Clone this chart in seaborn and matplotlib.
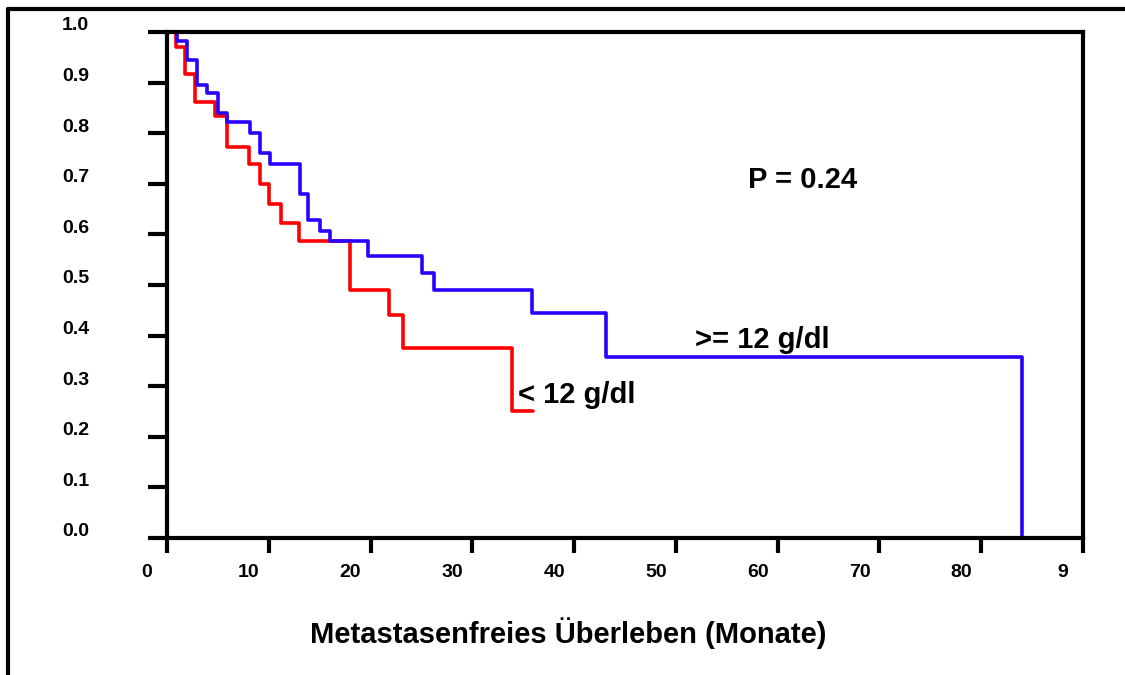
import pandas as pd
import matplotlib.pyplot as plt
import seaborn as sns
from matplotlib.lines import Line2D
from matplotlib.transforms import ScaledTranslation

# Kaplan-Meier step data
blue_t = [0, 0.95, 1.94, 3.0, 3.9, 5.0, 5.9, 8.15, 9.1, 10.1, 13.1, 13.9, 15.0,
          16.0, 19.8, 25.1, 26.2, 35.9, 43.1, 84.0]
blue_s = [1.0, 0.983, 0.945, 0.895, 0.880, 0.840, 0.823, 0.800, 0.761, 0.739,
          0.680, 0.628, 0.607, 0.586, 0.557, 0.523, 0.490, 0.444, 0.358, 0.0]

red_t = [0, 0.9, 1.77, 2.75, 4.7, 5.9, 8.1, 9.1, 10.05, 11.2, 13.0, 18.0, 21.8,
         23.2, 33.9, 36.0]
red_s = [1.0, 0.971, 0.917, 0.862, 0.833, 0.773, 0.739, 0.700, 0.661, 0.623,
         0.586, 0.490, 0.441, 0.375, 0.251, 0.251]

x_ticks = [0, 10, 20, 30, 40, 50, 60, 70, 80, 90]
x_labels = ["0", "10", "20", "30", "40", "50", "60", "70", "80", "9"]
y_ticks = [0.0, 0.1, 0.2, 0.3, 0.4, 0.5, 0.6, 0.7, 0.8, 0.9, 1.0]
y_labels = ["0.0", "0.1", "0.2", "0.3", "0.4", "0.5", "0.6", "0.7", "0.8", "0.9", "1.0"]

df = pd.concat([
    pd.DataFrame({"t": red_t, "s": red_s, "group": "< 12 g/dl"}),
    pd.DataFrame({"t": blue_t, "s": blue_s, "group": ">= 12 g/dl"}),
])

sns.set_theme(style="white")
plt.rcParams['font.family'] = ['Liberation Sans', 'DejaVu Sans']
plt.rcParams['font.weight'] = 'bold'
plt.rcParams['text.color'] = 'black'
plt.rcParams['xtick.color'] = 'black'
plt.rcParams['ytick.color'] = 'black'

fig = plt.figure(figsize=(11.25, 6.75), dpi=100)
ax = fig.add_axes([0.1484, 0.2030, 0.8143, 0.7496])

sns.lineplot(data=df, x="t", y="s", hue="group",
             palette={"< 12 g/dl": "#ff0000", ">= 12 g/dl": "#2a00ff"},
             drawstyle="steps-post", estimator=None, sort=False,
             linewidth=2.6, legend=False, ax=ax)

ax.set_xlim(0, 90)
ax.set_ylim(0, 1)
for sp in ax.spines.values():
    sp.set_visible(True)
    sp.set_color("black")
    sp.set_linewidth(3)

ax.set_xticks(x_ticks)
ax.set_xticklabels(x_labels, fontsize=14, fontweight="bold", color="black")
ax.set_yticks(y_ticks)
ax.set_yticklabels(y_labels, fontsize=14, fontweight="bold", color="black")
ax.tick_params(axis="x", bottom=True, direction="out", length=11, width=3,
               color="black", pad=8)
ax.tick_params(axis="y", left=True, direction="out", length=14, width=3,
               color="black", pad=42)
ax.set_xlabel("")
ax.set_ylabel("")

# shift tick labels like in the original
for lab in ax.get_xticklabels():
    lab.set_transform(lab.get_transform() + ScaledTranslation(-0.20, 0, fig.dpi_scale_trans))
for lab in ax.get_yticklabels():
    lab.set_transform(lab.get_transform() + ScaledTranslation(0, 0.08, fig.dpi_scale_trans))

ax.text(57.1, 0.707, "P = 0.24", fontsize=21, fontweight="bold", va="center", ha="left")
ax.text(51.9, 0.391, ">= 12 g/dl", fontsize=21, fontweight="bold", va="center", ha="left")
ax.text(34.5, 0.283, "< 12 g/dl", fontsize=21, fontweight="bold", va="center", ha="left")

fig.text(568 / 1125, 1 - 633 / 675, "Metastasenfreies Überleben (Monate)",
         fontsize=21, fontweight="bold", ha="center", va="center")

# outer frame (top and left edges visible)
fx = 8 / 1125
fy = 1 - 9 / 675
fig.add_artist(Line2D([fx, 1.0], [fy, fy], transform=fig.transFigure, color="black", lw=3))
fig.add_artist(Line2D([fx, fx], [fy, 0.0], transform=fig.transFigure, color="black", lw=3))

fig.savefig("out.png", dpi=100, facecolor="white")
